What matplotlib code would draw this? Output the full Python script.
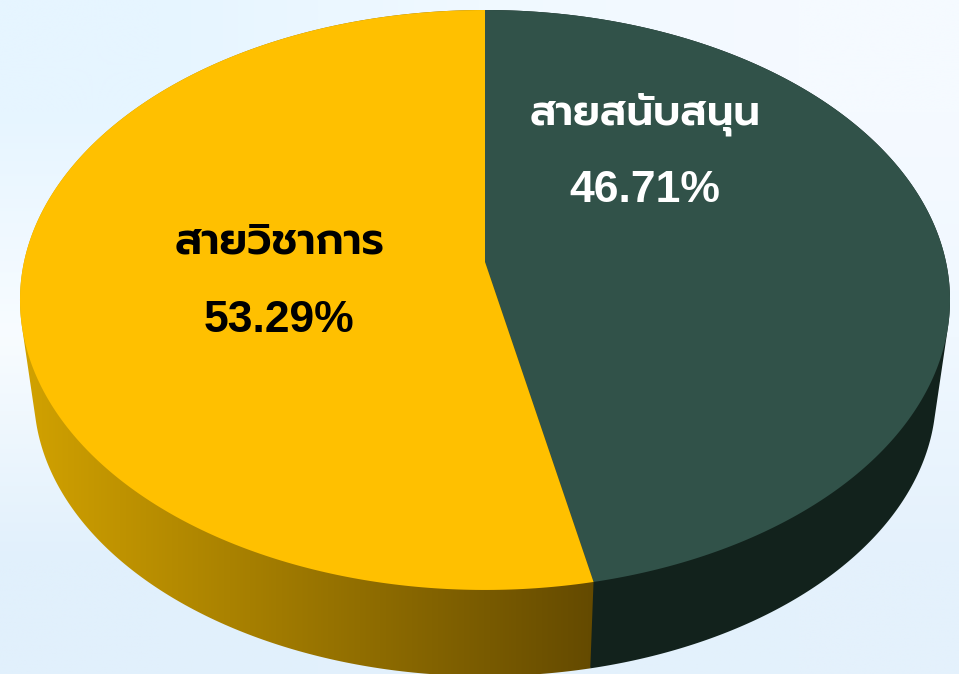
import numpy as np
import matplotlib
matplotlib.use("Agg")
import matplotlib.pyplot as plt
from matplotlib.colors import LinearSegmentedColormap, to_rgb
from matplotlib.patches import Polygon

# data
labels = ["สายสนับสนุน", "สายวิชาการ"]
shares = [46.71, 53.29]
pct_labels = ["46.71%", "53.29%"]

W, H = 959, 674

# perspective disc: unit circle -> picture pixels, apex is not the ellipse centre
CX, TOP_Y, BOT_Y = 485, 262, 358
A, B, K = 285, 461, 0.131
BOT_SCALE = 0.97


def project(theta, y0, s):
    # theta runs clockwise from 12 o'clock
    u, v = np.sin(theta), np.cos(theta)
    w = 1 + K * v
    return np.column_stack([CX + s * B * u / w, y0 - s * A * v / w])


def hull(pts):
    # monotone chain, used for the side wall of a slice
    pts = sorted(map(tuple, pts))

    def half(seq):
        out = []
        for p in seq:
            while len(out) > 1:
                a, b = out[-2], out[-1]
                if (b[0] - a[0]) * (p[1] - a[1]) - (b[1] - a[1]) * (p[0] - a[0]) > 0:
                    break
                out.pop()
            out.append(p)
        return out[:-1]

    return np.array(half(pts) + half(pts[::-1]))


edges = np.concatenate([[0], np.cumsum(shares)]) / np.sum(shares) * 2 * np.pi
arcs = [np.linspace(edges[i], edges[i + 1], 300) for i in range(2)]

fig = plt.figure(figsize=(W / 100, H / 100), dpi=100)
ax = fig.add_axes([0, 0, 1, 1])
ax.set_xlim(0, W)
ax.set_ylim(H, 0)
ax.axis("off")

# pale blue background
bg = np.array([
    [to_rgb("#E6F5FF"), to_rgb("#F0F9FF"), to_rgb("#F5FAFF")],
    [to_rgb("#F8FCFF"), to_rgb("#F4FAFF"), to_rgb("#F0F8FF")],
    [to_rgb("#E1F0FC"), to_rgb("#E3F1FC"), to_rgb("#E4F1FC")],
])
ax.imshow(bg, extent=[0, W, H, 0], aspect="auto", interpolation="bilinear", zorder=0)

# side walls, dark one first so the yellow edge sits on top of it
dark_side = hull(np.vstack([project(arcs[0], TOP_Y, 1), project(arcs[0], BOT_Y, BOT_SCALE)]))
ax.fill(dark_side[:, 0], dark_side[:, 1], color="#12221C", lw=0, zorder=1)

yellow_side = hull(np.vstack([project(arcs[1], TOP_Y, 1), project(arcs[1], BOT_Y, BOT_SCALE)]))
side_cmap = LinearSegmentedColormap.from_list("side", ["#D3A300", "#644A00"])
grad = ax.imshow(np.linspace(0, 1, 256)[None, :], extent=[15, 595, H, 0], cmap=side_cmap,
                 aspect="auto", zorder=2)
clip = Polygon(yellow_side, transform=ax.transData, fc="none", ec="none")
ax.add_patch(clip)
grad.set_clip_path(clip)
ax.set_xlim(0, W)
ax.set_ylim(H, 0)

# top faces
apex = np.array([[CX, TOP_Y]])
for arc, col in zip(arcs, ["#315249", "#FFC000"]):
    face = np.vstack([apex, project(arc, TOP_Y, 1)])
    ax.fill(face[:, 0], face[:, 1], color=col, lw=0, zorder=3)

# labels
thai = ["Prompt", "DejaVu Sans"]
ax.text(645, 114, labels[0], color="white", fontsize=30, family=thai, weight=600, ha="center", va="center", zorder=4)
ax.text(645, 191, pct_labels[0], color="white", fontsize=32, family="Liberation Sans", weight="bold", ha="center", va="center", zorder=4)
ax.text(280, 243, labels[1], color="black", fontsize=31, family=thai, weight=600, ha="center", va="center", zorder=4)
ax.text(279, 321, pct_labels[1], color="black", fontsize=32, family="Liberation Sans", weight="bold", ha="center", va="center", zorder=4)

fig.savefig("out.png", dpi=100)
